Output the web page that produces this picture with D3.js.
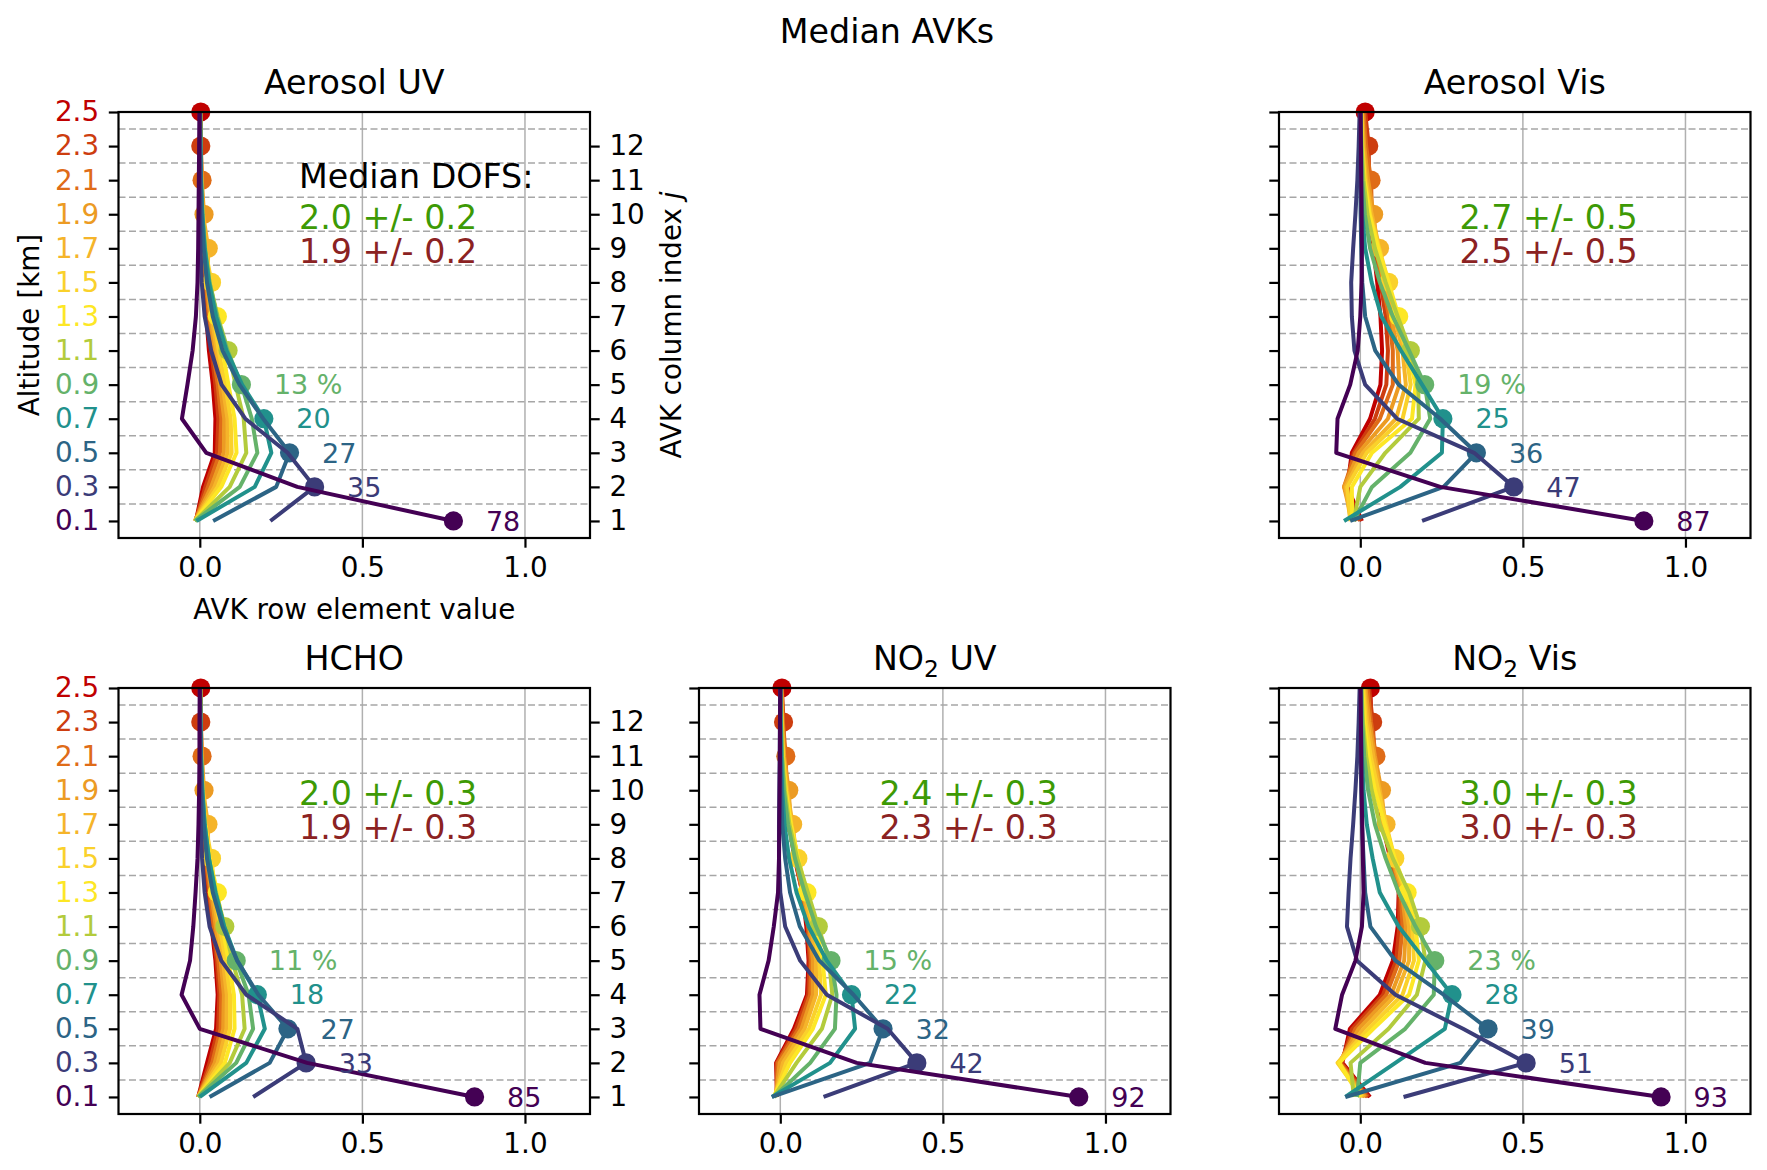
<!DOCTYPE html>
<html>
<head>
<meta charset="utf-8">
<script src="https://cdn.jsdelivr.net/npm/d3@7"></script>
<style>
body { margin: 0; background: #fff; }
</style>
</head>
<body>
<script>
// altitude levels (km), also the rows of every AVK matrix
var altitudes = [0.1, 0.3, 0.5, 0.7, 0.9, 1.1, 1.3, 1.5, 1.7, 1.9, 2.1, 2.3, 2.5]
var columnTicks = [1, 2, 3, 4, 5, 6, 7, 8, 9, 10, 11, 12]
var xTicks = [0, 0.5, 1.0]
var layerEdges = [0.2, 0.4, 0.6, 0.8, 1.0, 1.2, 1.4, 1.6, 1.8, 2.0, 2.2, 2.4]
var levelColors = ["#440154", "#3b3c78", "#2c6485", "#21918c", "#65b26a", "#b3cb3c",
  "#fde725", "#fad12b", "#f5b42a", "#ec9b23", "#df6c18", "#cd3d0f", "#c00000"]

var titleParts = [["Aerosol UV"], ["Aerosol Vis"], ["HCHO"], ["NO", "2", " UV"], ["NO", "2", " Vis"]]
var dofsFirst = ["2.0 +/- 0.2", "2.7 +/- 0.5", "2.0 +/- 0.3", "2.4 +/- 0.3", "3.0 +/- 0.3"]
var dofsSecond = ["1.9 +/- 0.2", "2.5 +/- 0.5", "1.9 +/- 0.3", "2.3 +/- 0.3", "3.0 +/- 0.3"]

var pctAerosolUV = [78, 35, 27, 20, 13]
var pctAerosolVis = [87, 47, 36, 25, 19]
var pctHCHO = [85, 33, 27, 18, 11]
var pctNO2UV = [92, 42, 32, 22, 15]
var pctNO2Vis = [93, 51, 39, 28, 23]

// row i = AVK row of level i, value j = element at altitude j
var avkAerosolUV = [
  [0.78, 0.30, 0.02, -0.055, -0.038, -0.022, -0.012, -0.007, -0.005, -0.004, -0.003, -0.002, -0.001],
  [0.217, 0.353, 0.27, 0.14, 0.067, 0.035, 0.015, 0.006, 0.002, 0.001, 0.001, 0.0, 0.0],
  [0.041, 0.235, 0.276, 0.195, 0.122, 0.07, 0.04, 0.022, 0.012, 0.006, 0.003, 0.002, 0.001],
  [-0.01, 0.169, 0.22, 0.197, 0.13, 0.082, 0.05, 0.028, 0.015, 0.008, 0.004, 0.002, 0.001],
  [-0.015, 0.123, 0.177, 0.16, 0.128, 0.085, 0.053, 0.03, 0.016, 0.008, 0.004, 0.002, 0.001],
  [-0.015, 0.092, 0.143, 0.135, 0.11, 0.087, 0.055, 0.03, 0.016, 0.008, 0.004, 0.002, 0.001],
  [-0.015, 0.066, 0.113, 0.107, 0.088, 0.07, 0.054, 0.028, 0.015, 0.008, 0.004, 0.002, 0.001],
  [-0.015, 0.055, 0.098, 0.095, 0.078, 0.058, 0.042, 0.036, 0.016, 0.008, 0.004, 0.002, 0.001],
  [-0.015, 0.045, 0.086, 0.085, 0.07, 0.052, 0.036, 0.024, 0.026, 0.01, 0.005, 0.002, 0.001],
  [-0.015, 0.035, 0.074, 0.075, 0.062, 0.046, 0.032, 0.021, 0.013, 0.013, 0.006, 0.003, 0.001],
  [-0.014, 0.025, 0.062, 0.066, 0.055, 0.04, 0.028, 0.018, 0.011, 0.007, 0.007, 0.003, 0.002],
  [-0.013, 0.017, 0.053, 0.057, 0.048, 0.035, 0.024, 0.015, 0.009, 0.005, 0.003, 0.003, 0.002],
  [-0.012, 0.01, 0.046, 0.048, 0.04, 0.028, 0.02, 0.012, 0.007, 0.004, 0.003, 0.002, 0.003]
]
var avkAerosolVis = [
  [0.872, 0.246, -0.074, -0.07, -0.031, -0.008, 0.0, 0.004, 0.005, 0.004, 0.003, 0.002, 0.001],
  [0.19, 0.472, 0.35, 0.113, 0.015, -0.018, -0.026, -0.028, -0.022, -0.015, -0.009, -0.005, -0.002],
  [-0.031, 0.256, 0.357, 0.246, 0.118, 0.046, 0.015, 0.006, 0.003, 0.001, 0.0, 0.0, 0.0],
  [-0.05, 0.123, 0.251, 0.254, 0.19, 0.125, 0.065, 0.035, 0.015, 0.006, 0.002, 0.001, 0.0],
  [-0.02, 0.036, 0.154, 0.215, 0.198, 0.15, 0.1, 0.06, 0.03, 0.014, 0.006, 0.003, 0.001],
  [-0.02, 0.0, 0.077, 0.18, 0.178, 0.154, 0.115, 0.078, 0.045, 0.022, 0.01, 0.004, 0.002],
  [-0.025, -0.026, 0.036, 0.159, 0.17, 0.145, 0.118, 0.087, 0.055, 0.028, 0.012, 0.005, 0.002],
  [-0.03, -0.04, 0.02, 0.13, 0.155, 0.14, 0.11, 0.087, 0.058, 0.03, 0.014, 0.006, 0.003],
  [-0.03, -0.045, 0.008, 0.11, 0.14, 0.13, 0.105, 0.078, 0.059, 0.035, 0.018, 0.008, 0.004],
  [-0.025, -0.05, -0.005, 0.085, 0.12, 0.115, 0.095, 0.072, 0.052, 0.041, 0.024, 0.012, 0.006],
  [-0.01, -0.05, -0.015, 0.06, 0.1, 0.1, 0.088, 0.068, 0.048, 0.036, 0.033, 0.018, 0.01],
  [0.0, -0.045, -0.02, 0.045, 0.08, 0.085, 0.078, 0.062, 0.045, 0.033, 0.027, 0.026, 0.015],
  [0.005, -0.04, -0.026, 0.03, 0.062, 0.067, 0.062, 0.052, 0.04, 0.03, 0.023, 0.018, 0.015]
]
var avkHCHO = [
  [0.845, 0.33, 0.0, -0.056, -0.03, -0.02, -0.013, -0.007, -0.004, -0.002, -0.001, -0.001, 0.0],
  [0.164, 0.327, 0.30, 0.143, 0.066, 0.03, 0.015, 0.007, 0.003, 0.002, 0.001, 0.001, 0.0],
  [0.03, 0.215, 0.271, 0.18, 0.115, 0.07, 0.04, 0.022, 0.012, 0.006, 0.003, 0.002, 0.001],
  [0.0, 0.143, 0.2, 0.177, 0.115, 0.075, 0.048, 0.028, 0.015, 0.008, 0.004, 0.002, 0.001],
  [-0.005, 0.112, 0.164, 0.15, 0.112, 0.075, 0.048, 0.028, 0.015, 0.008, 0.004, 0.002, 0.001],
  [-0.005, 0.092, 0.138, 0.13, 0.1, 0.077, 0.05, 0.028, 0.015, 0.008, 0.004, 0.002, 0.001],
  [-0.005, 0.077, 0.107, 0.105, 0.088, 0.07, 0.054, 0.03, 0.016, 0.008, 0.004, 0.002, 0.001],
  [-0.005, 0.065, 0.093, 0.093, 0.079, 0.062, 0.045, 0.036, 0.017, 0.009, 0.004, 0.002, 0.001],
  [-0.005, 0.055, 0.082, 0.083, 0.071, 0.055, 0.04, 0.026, 0.025, 0.01, 0.005, 0.002, 0.001],
  [-0.005, 0.046, 0.072, 0.074, 0.064, 0.049, 0.035, 0.022, 0.014, 0.013, 0.006, 0.003, 0.001],
  [-0.005, 0.038, 0.064, 0.066, 0.057, 0.043, 0.031, 0.019, 0.012, 0.008, 0.007, 0.003, 0.002],
  [-0.005, 0.03, 0.056, 0.06, 0.052, 0.039, 0.028, 0.017, 0.01, 0.006, 0.004, 0.003, 0.002],
  [-0.005, 0.022, 0.05, 0.055, 0.048, 0.036, 0.025, 0.015, 0.009, 0.005, 0.003, 0.002, 0.003]
]
var avkNO2UV = [
  [0.918, 0.235, -0.061, -0.064, -0.036, -0.02, -0.007, -0.004, -0.003, -0.002, -0.001, -0.001, 0.0],
  [0.133, 0.42, 0.33, 0.143, 0.061, 0.015, 0.0, -0.004, -0.004, -0.003, -0.002, -0.001, 0.0],
  [-0.026, 0.276, 0.316, 0.225, 0.12, 0.06, 0.03, 0.015, 0.006, 0.003, 0.001, 0.0, 0.0],
  [-0.026, 0.153, 0.23, 0.219, 0.143, 0.087, 0.05, 0.027, 0.013, 0.006, 0.003, 0.001, 0.0],
  [-0.02, 0.092, 0.168, 0.173, 0.156, 0.11, 0.075, 0.045, 0.024, 0.011, 0.005, 0.002, 0.001],
  [-0.02, 0.05, 0.128, 0.16, 0.15, 0.117, 0.085, 0.052, 0.028, 0.014, 0.006, 0.003, 0.001],
  [-0.02, 0.03, 0.1, 0.14, 0.13, 0.11, 0.082, 0.055, 0.032, 0.016, 0.007, 0.003, 0.001],
  [-0.018, 0.018, 0.088, 0.125, 0.12, 0.102, 0.078, 0.054, 0.034, 0.018, 0.008, 0.004, 0.002],
  [-0.016, 0.008, 0.075, 0.11, 0.11, 0.095, 0.073, 0.05, 0.038, 0.021, 0.01, 0.005, 0.002],
  [-0.014, -0.002, 0.065, 0.1, 0.1, 0.09, 0.07, 0.048, 0.032, 0.026, 0.012, 0.006, 0.003],
  [-0.012, -0.008, 0.056, 0.092, 0.095, 0.086, 0.068, 0.046, 0.03, 0.019, 0.017, 0.008, 0.004],
  [-0.01, -0.011, 0.048, 0.086, 0.09, 0.084, 0.069, 0.045, 0.028, 0.017, 0.011, 0.01, 0.005],
  [-0.01, -0.013, 0.042, 0.082, 0.087, 0.08, 0.068, 0.044, 0.027, 0.016, 0.01, 0.006, 0.005]
]
var avkNO2Vis = [
  [0.925, 0.2, -0.077, -0.056, -0.015, 0.005, 0.01, 0.008, 0.006, 0.004, 0.003, 0.002, 0.001],
  [0.133, 0.51, 0.316, 0.108, -0.01, -0.041, -0.036, -0.03, -0.022, -0.015, -0.009, -0.005, -0.002],
  [-0.046, 0.308, 0.393, 0.256, 0.108, 0.031, 0.015, 0.01, 0.005, 0.003, 0.001, 0.0, 0.0],
  [-0.046, 0.108, 0.26, 0.282, 0.2, 0.118, 0.06, 0.038, 0.02, 0.01, 0.005, 0.002, 0.001],
  [-0.01, 0.0, 0.138, 0.226, 0.229, 0.17, 0.118, 0.078, 0.045, 0.024, 0.012, 0.006, 0.003],
  [-0.02, -0.03, 0.087, 0.174, 0.2, 0.185, 0.15, 0.1, 0.06, 0.035, 0.018, 0.008, 0.004],
  [0.0, -0.065, 0.04, 0.15, 0.18, 0.17, 0.144, 0.106, 0.075, 0.045, 0.025, 0.012, 0.006],
  [0.005, -0.07, 0.025, 0.13, 0.165, 0.16, 0.138, 0.106, 0.079, 0.055, 0.032, 0.017, 0.009],
  [0.01, -0.068, 0.01, 0.11, 0.15, 0.15, 0.133, 0.102, 0.079, 0.06, 0.04, 0.022, 0.012],
  [0.015, -0.065, -0.005, 0.095, 0.135, 0.14, 0.128, 0.098, 0.075, 0.065, 0.045, 0.028, 0.016],
  [0.02, -0.062, -0.015, 0.08, 0.12, 0.13, 0.124, 0.096, 0.072, 0.058, 0.048, 0.033, 0.022],
  [0.025, -0.058, -0.025, 0.07, 0.11, 0.12, 0.12, 0.094, 0.07, 0.056, 0.044, 0.038, 0.027],
  [0.03, -0.055, -0.032, 0.06, 0.1, 0.115, 0.118, 0.092, 0.068, 0.054, 0.042, 0.034, 0.031]
]

var panels = [
  {k: 0, col: 0, row: 0, avk: avkAerosolUV, pct: pctAerosolUV},
  {k: 1, col: 2, row: 0, avk: avkAerosolVis, pct: pctAerosolVis},
  {k: 2, col: 0, row: 1, avk: avkHCHO, pct: pctHCHO},
  {k: 3, col: 1, row: 1, avk: avkNO2UV, pct: pctNO2UV},
  {k: 4, col: 2, row: 1, avk: avkNO2Vis, pct: pctNO2Vis}
]

var font = "DejaVu Sans"
var panelW = 471.5, panelH = 426
var colLeft = [118.5, 699, 1279]
var rowTop = [112, 688]
var tickLen = 9.7

var svg = d3.select("body").append("svg")
  .attr("width", 1767)
  .attr("height", 1170)
  .style("font-family", font)

var x = d3.scaleLinear().domain([-0.25, 1.2]).range([0, panelW])
var y = d3.scaleLinear().domain([0, 2.5]).range([panelH, 0])

var linia = d3.line()
  .x(function(d) { return x(d) })
  .y(function(d, j) { return y(altitudes[j]) })

svg.append("text")
  .attr("x", 887).attr("y", 43)
  .attr("text-anchor", "middle")
  .attr("font-size", 33.3)
  .text("Median AVKs")

panels.forEach(function(p) {
  var g = svg.append("g")
    .attr("transform", "translate(" + colLeft[p.col] + "," + rowTop[p.row] + ")")

  // grid
  g.append("g").selectAll("line")
    .data(xTicks)
    .enter()
    .append("line")
    .attr("x1", function(d) { return x(d) })
    .attr("x2", function(d) { return x(d) })
    .attr("y1", 0).attr("y2", panelH)
    .style("stroke", "#b0b0b0").style("stroke-width", 1.5)
  g.append("g").selectAll("line")
    .data(layerEdges)
    .enter()
    .append("line")
    .attr("x1", 0).attr("x2", panelW)
    .attr("y1", function(d) { return y(d) })
    .attr("y2", function(d) { return y(d) })
    .style("stroke", "#a6a6a6").style("stroke-width", 1.5)
    .style("stroke-dasharray", "7,3.5")

  // AVK rows, top level first so the lowest ends up on top
  var rzedy = g.append("g").selectAll("g")
    .data(d3.range(altitudes.length).reverse())
    .enter()
    .append("g")
  rzedy.append("path")
    .attr("d", function(i) { return linia(p.avk[i]) })
    .style("fill", "none")
    .style("stroke", function(i) { return levelColors[i] })
    .style("stroke-width", 4)
    .style("stroke-linejoin", "round")
  rzedy.append("circle")
    .attr("cx", function(i) { return x(p.avk[i][i]) })
    .attr("cy", function(i) { return y(altitudes[i]) })
    .attr("r", 9.6)
    .style("fill", function(i) { return levelColors[i] })

  // percent labels next to the lowest diagonal elements
  g.append("g").selectAll("text")
    .data(p.pct)
    .enter()
    .append("text")
    .attr("x", function(d, i) { return x(p.avk[i][i] + 0.1) })
    .attr("y", function(d, i) { return y(altitudes[i]) })
    .attr("dy", "0.36em")
    .attr("font-size", 27)
    .style("fill", function(d, i) { return levelColors[i] })
    .text(function(d, i) { return i === 4 ? d + " %" : d })

  // DOFS text
  var tx = x(0.305)
  if (p.k === 0) {
    g.append("text").attr("x", tx).attr("y", 75.5)
      .attr("font-size", 33.3).style("fill", "black").text("Median DOFS:")
  }
  g.append("text").attr("x", tx).attr("y", 116.5)
    .attr("font-size", 33.3).style("fill", "#3d9a05").text(dofsFirst[p.k])
  g.append("text").attr("x", tx).attr("y", 150.5)
    .attr("font-size", 33.3).style("fill", "#8b2222").text(dofsSecond[p.k])

  // axes
  var showLeft = p.col === 0
  var osY = d3.axisLeft(y)
    .tickValues(altitudes)
    .tickSize(tickLen).tickPadding(9.7)
    .tickFormat(showLeft ? d3.format(".1f") : "")
  var gy = g.append("g").call(osY)
  gy.attr("font-size", 27.8).attr("font-family", font)
  gy.select(".domain").remove()
  gy.selectAll("line").style("stroke-width", 2.2)
  gy.selectAll("text").attr("fill", function(d, i) { return levelColors[i] })

  var osX = d3.axisBottom(x)
    .tickValues(xTicks)
    .tickSize(tickLen).tickPadding(9.7)
    .tickFormat(d3.format(".1f"))
  var gx = g.append("g").attr("transform", "translate(0," + panelH + ")").call(osX)
  gx.attr("font-size", 27.8).attr("font-family", font)
  gx.select(".domain").remove()
  gx.selectAll("line").style("stroke-width", 2.2)

  if (showLeft) {
    var osR = d3.axisRight(y)
      .tickValues(altitudes.slice(0, 12))
      .tickSize(tickLen).tickPadding(9.7)
      .tickFormat(function(d, i) { return columnTicks[i] })
    var gr = g.append("g").attr("transform", "translate(" + panelW + ",0)").call(osR)
    gr.attr("font-size", 27.8).attr("font-family", font)
    gr.select(".domain").remove()
    gr.selectAll("line").style("stroke-width", 2.2)
  }

  // spines
  g.append("rect")
    .attr("x", 0).attr("y", 0)
    .attr("width", panelW).attr("height", panelH)
    .style("fill", "none").style("stroke", "black").style("stroke-width", 2.2)

  // title
  var tytul = g.append("text")
    .attr("x", panelW / 2).attr("y", -18)
    .attr("text-anchor", "middle")
    .attr("font-size", 33.3)
  var czesci = titleParts[p.k]
  if (czesci.length === 1) {
    tytul.text(czesci[0])
  } else {
    tytul.append("tspan").text(czesci[0])
    tytul.append("tspan").attr("font-size", 23.3).attr("dy", 7).text(czesci[1])
    tytul.append("tspan").attr("dy", -7).text(czesci[2])
  }

  if (p.k === 0) {
    g.append("text")
      .attr("x", panelW / 2).attr("y", panelH + 81)
      .attr("text-anchor", "middle")
      .attr("font-size", 27.8)
      .text("AVK row element value")
    g.append("text")
      .attr("transform", "translate(" + (-79.5) + "," + (panelH / 2) + ") rotate(-90)")
      .attr("text-anchor", "middle")
      .attr("font-size", 27.8)
      .text("Altitude [km]")
    var prawy = g.append("text")
      .attr("transform", "translate(" + (panelW + 91) + "," + (panelH / 2) + ") rotate(-90)")
      .attr("text-anchor", "middle")
      .attr("font-size", 27.8)
    prawy.append("tspan").text("AVK column index ")
    prawy.append("tspan").style("font-style", "italic").text("j")
  }
})
</script>
</body>
</html>
